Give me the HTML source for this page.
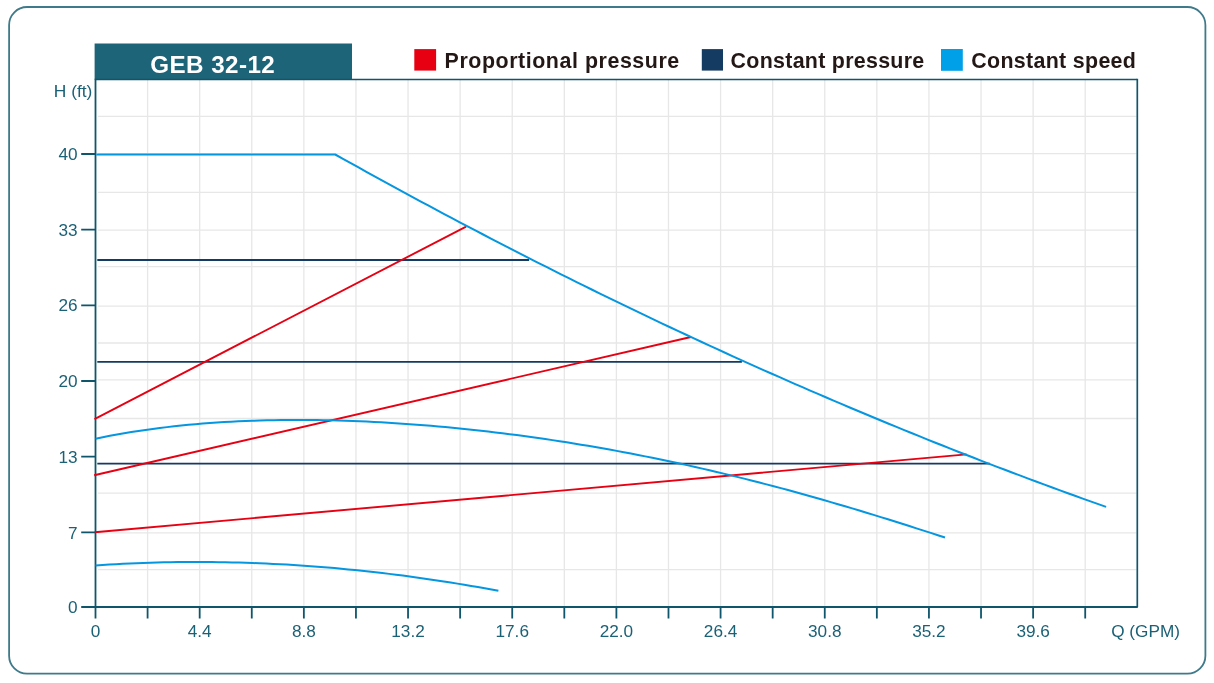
<!DOCTYPE html>
<html><head><meta charset="utf-8"><title>GEB 32-12</title>
<style>
html,body{margin:0;padding:0;background:#fff;width:1214px;height:683px;overflow:hidden;font-family:"Liberation Sans",sans-serif;}
svg{display:block;will-change:transform;}
text{font-family:"Liberation Sans",sans-serif;}
</style></head><body>
<svg width="1214" height="683" viewBox="0 0 1214 683">
<rect x="9.1" y="7" width="1196.3" height="666.7" rx="18" ry="18" fill="none" stroke="#3e7a8a" stroke-width="1.8"/>
<path d="M147.59 80.00V606.10 M199.68 80.00V606.10 M251.77 80.00V606.10 M303.86 80.00V606.10 M355.95 80.00V606.10 M408.04 80.00V606.10 M460.13 80.00V606.10 M512.22 80.00V606.10 M564.31 80.00V606.10 M616.40 80.00V606.10 M668.49 80.00V606.10 M720.58 80.00V606.10 M772.67 80.00V606.10 M824.76 80.00V606.10 M876.85 80.00V606.10 M928.94 80.00V606.10 M981.03 80.00V606.10 M1033.12 80.00V606.10 M1085.21 80.00V606.10 M98 116.40H1136.50 M98 153.60H1136.50 M98 192.40H1136.50 M98 230.10H1136.50 M98 266.70H1136.50 M98 306.10H1136.50 M98 343.00H1136.50 M98 379.90H1136.50 M98 418.50H1136.50 M98 493.10H1136.50 M98 532.90H1136.50 M98 569.70H1136.50" stroke="#e7e7e7" stroke-width="1.3" fill="none"/>
<rect x="94.6" y="43.5" width="257.4" height="36.2" fill="#1e6479"/>
<text x="150.2" y="72.7" font-weight="bold" font-size="24.2" fill="#fff" textLength="124.6" lengthAdjust="spacing">GEB 32-12</text>
<path d="M95.50 79.40H1137.10" stroke="#0f566c" stroke-width="1.5" fill="none"/>
<path d="M1137.3 78.70V607.00" stroke="#0f566c" stroke-width="1.7" fill="none"/>
<path d="M95.50 78.70V618.6 M81.2 607.00H1137.80" stroke="#0f566c" stroke-width="1.8" fill="none"/>
<path d="M81.2 532.40H95.50 M81.2 456.60H95.50 M81.2 381.00H95.50 M81.2 305.30H95.50 M81.2 229.60H95.50 M81.2 154.00H95.50 M147.59 607.00V618.6 M199.68 607.00V618.6 M251.77 607.00V618.6 M303.86 607.00V618.6 M355.95 607.00V618.6 M408.04 607.00V618.6 M460.13 607.00V618.6 M512.22 607.00V618.6 M564.31 607.00V618.6 M616.40 607.00V618.6 M668.49 607.00V618.6 M720.58 607.00V618.6 M772.67 607.00V618.6 M824.76 607.00V618.6 M876.85 607.00V618.6 M928.94 607.00V618.6 M981.03 607.00V618.6 M1033.12 607.00V618.6 M1085.21 607.00V618.6" stroke="#0f566c" stroke-width="1.8" fill="none"/>
<text x="77.6" y="613.10" font-size="17.2" fill="#1b6176" text-anchor="end">0</text>
<text x="77.6" y="538.50" font-size="17.2" fill="#1b6176" text-anchor="end">7</text>
<text x="77.6" y="462.70" font-size="17.2" fill="#1b6176" text-anchor="end">13</text>
<text x="77.6" y="387.10" font-size="17.2" fill="#1b6176" text-anchor="end">20</text>
<text x="77.6" y="311.40" font-size="17.2" fill="#1b6176" text-anchor="end">26</text>
<text x="77.6" y="235.70" font-size="17.2" fill="#1b6176" text-anchor="end">33</text>
<text x="77.6" y="160.10" font-size="17.2" fill="#1b6176" text-anchor="end">40</text>
<text x="92.4" y="97.4" font-size="17.4" fill="#1b6176" text-anchor="end">H (ft)</text>
<text x="95.50" y="637.2" font-size="17.2" fill="#1b6176" text-anchor="middle">0</text>
<text x="199.68" y="637.2" font-size="17.2" fill="#1b6176" text-anchor="middle">4.4</text>
<text x="303.86" y="637.2" font-size="17.2" fill="#1b6176" text-anchor="middle">8.8</text>
<text x="408.04" y="637.2" font-size="17.2" fill="#1b6176" text-anchor="middle">13.2</text>
<text x="512.22" y="637.2" font-size="17.2" fill="#1b6176" text-anchor="middle">17.6</text>
<text x="616.40" y="637.2" font-size="17.2" fill="#1b6176" text-anchor="middle">22.0</text>
<text x="720.58" y="637.2" font-size="17.2" fill="#1b6176" text-anchor="middle">26.4</text>
<text x="824.76" y="637.2" font-size="17.2" fill="#1b6176" text-anchor="middle">30.8</text>
<text x="928.94" y="637.2" font-size="17.2" fill="#1b6176" text-anchor="middle">35.2</text>
<text x="1033.12" y="637.2" font-size="17.2" fill="#1b6176" text-anchor="middle">39.6</text>
<text x="1111.2" y="637.2" font-size="17.2" fill="#1b6176">Q (GPM)</text>
<rect x="414.3" y="49.1" width="21.8" height="21.5" fill="#e60012"/>
<rect x="701.8" y="49.1" width="21.2" height="21.5" fill="#143b61"/>
<rect x="941.0" y="49.0" width="21.8" height="21.8" fill="#00a0e9"/>
<text x="444.6" y="67.65" font-weight="bold" font-size="21.4" fill="#231815" textLength="234.6" lengthAdjust="spacing">Proportional pressure</text>
<text x="730.6" y="67.65" font-weight="bold" font-size="21.4" fill="#231815" textLength="193.6" lengthAdjust="spacing">Constant pressure</text>
<text x="971.3" y="67.65" font-weight="bold" font-size="21.4" fill="#231815" textLength="164.6" lengthAdjust="spacing">Constant speed</text>
<path d="M97.3 260.0H529.1 M97.3 361.8H741.9 M97.3 463.6H990.0" stroke="#143b61" stroke-width="1.8" fill="none"/>
<path d="M94.5 419.1L466.1 226.6 M94.2 475.3L690.9 337.0 M94.8 532.25L966.6 454.4" stroke="#e60012" stroke-width="1.9" fill="none"/>
<path d="M96.3 154.5 L335.20 154.50 L342.99 158.79 L350.77 163.14 L358.56 167.47 L366.35 171.78 L374.13 176.08 L381.92 180.36 L389.71 184.62 L397.49 188.87 L405.28 193.10 L413.07 197.32 L420.86 201.51 L428.64 205.70 L436.43 209.86 L444.22 214.01 L452.00 218.14 L459.79 222.26 L467.58 226.36 L475.36 230.44 L483.15 234.51 L490.94 238.56 L498.72 242.60 L506.51 246.62 L514.30 250.62 L522.08 254.60 L529.87 258.57 L537.66 262.53 L545.45 266.46 L553.23 270.38 L561.02 274.29 L568.81 278.18 L576.59 282.05 L584.38 285.90 L592.17 289.74 L599.95 293.56 L607.74 297.37 L615.53 301.16 L623.31 304.93 L631.10 308.69 L638.89 312.43 L646.67 316.15 L654.46 319.86 L662.25 323.55 L670.04 327.23 L677.82 330.89 L685.61 334.53 L693.40 338.15 L701.18 341.76 L708.97 345.36 L716.76 348.93 L724.54 352.49 L732.33 356.04 L740.12 359.57 L747.90 363.08 L755.69 366.57 L763.48 370.05 L771.26 373.51 L779.05 376.96 L786.84 380.39 L794.63 383.80 L802.41 387.20 L810.20 390.58 L817.99 393.95 L825.77 397.29 L833.56 400.63 L841.35 403.94 L849.13 407.24 L856.92 410.52 L864.71 413.79 L872.49 417.04 L880.28 420.27 L888.07 423.49 L895.85 426.69 L903.64 429.87 L911.43 433.04 L919.22 436.19 L927.00 439.33 L934.79 442.45 L942.58 445.55 L950.36 448.64 L958.15 451.71 L965.94 454.76 L973.72 457.80 L981.51 460.82 L989.30 463.82 L997.08 466.81 L1004.87 469.78 L1012.66 472.74 L1020.44 475.68 L1028.23 478.60 L1036.02 481.51 L1043.81 484.40 L1051.59 487.27 L1059.38 490.13 L1067.17 492.97 L1074.95 495.79 L1082.74 498.60 L1090.53 501.39 L1098.31 504.17 L1106.10 506.93" stroke="#0596e0" stroke-width="2.0" fill="none" stroke-linejoin="round"/>
<path d="M95.60 438.65 L102.74 437.19 L109.88 435.81 L117.01 434.49 L124.15 433.25 L131.29 432.07 L138.43 430.96 L145.56 429.91 L152.70 428.92 L159.84 427.99 L166.98 427.12 L174.12 426.31 L181.25 425.55 L188.39 424.85 L195.53 424.20 L202.67 423.60 L209.81 423.05 L216.94 422.55 L224.08 422.10 L231.22 421.69 L238.36 421.33 L245.49 421.02 L252.63 420.75 L259.77 420.52 L266.91 420.33 L274.05 420.18 L281.18 420.07 L288.32 420.01 L295.46 419.97 L302.60 419.98 L309.73 420.03 L316.87 420.10 L324.01 420.22 L331.15 420.37 L338.29 420.55 L345.42 420.77 L352.56 421.02 L359.70 421.31 L366.84 421.62 L373.97 421.97 L381.11 422.35 L388.25 422.76 L395.39 423.20 L402.53 423.67 L409.66 424.17 L416.80 424.70 L423.94 425.26 L431.08 425.84 L438.22 426.46 L445.35 427.11 L452.49 427.78 L459.63 428.48 L466.77 429.21 L473.90 429.97 L481.04 430.76 L488.18 431.57 L495.32 432.41 L502.46 433.28 L509.59 434.18 L516.73 435.10 L523.87 436.05 L531.01 437.03 L538.14 438.04 L545.28 439.07 L552.42 440.13 L559.56 441.21 L566.70 442.33 L573.83 443.47 L580.97 444.64 L588.11 445.83 L595.25 447.05 L602.38 448.30 L609.52 449.58 L616.66 450.88 L623.80 452.21 L630.94 453.56 L638.07 454.95 L645.21 456.36 L652.35 457.79 L659.49 459.26 L666.63 460.75 L673.76 462.26 L680.90 463.81 L688.04 465.38 L695.18 466.97 L702.31 468.60 L709.45 470.25 L716.59 471.92 L723.73 473.62 L730.87 475.35 L738.00 477.10 L745.14 478.88 L752.28 480.68 L759.42 482.51 L766.55 484.36 L773.69 486.24 L780.83 488.14 L787.97 490.07 L795.11 492.02 L802.24 493.99 L809.38 495.98 L816.52 498.00 L823.66 500.04 L830.79 502.10 L837.93 504.19 L845.07 506.29 L852.21 508.41 L859.35 510.56 L866.48 512.72 L873.62 514.90 L880.76 517.10 L887.90 519.32 L895.04 521.55 L902.17 523.80 L909.31 526.06 L916.45 528.33 L923.59 530.62 L930.72 532.92 L937.86 535.24 L945.00 537.56" stroke="#0596e0" stroke-width="2.0" fill="none"/>
<path d="M95.60 565.46 L102.43 565.00 L109.25 564.58 L116.08 564.19 L122.91 563.84 L129.74 563.51 L136.56 563.22 L143.39 562.96 L150.22 562.73 L157.04 562.53 L163.87 562.36 L170.70 562.22 L177.53 562.12 L184.35 562.04 L191.18 562.00 L198.01 561.99 L204.83 562.01 L211.66 562.06 L218.49 562.14 L225.32 562.25 L232.14 562.39 L238.97 562.56 L245.80 562.76 L252.62 563.00 L259.45 563.26 L266.28 563.55 L273.11 563.88 L279.93 564.23 L286.76 564.61 L293.59 565.02 L300.41 565.47 L307.24 565.94 L314.07 566.44 L320.89 566.97 L327.72 567.53 L334.55 568.12 L341.38 568.74 L348.20 569.38 L355.03 570.06 L361.86 570.77 L368.68 571.50 L375.51 572.26 L382.34 573.06 L389.17 573.88 L395.99 574.72 L402.82 575.60 L409.65 576.51 L416.47 577.44 L423.30 578.40 L430.13 579.39 L436.96 580.41 L443.78 581.46 L450.61 582.53 L457.44 583.63 L464.26 584.76 L471.09 585.92 L477.92 587.10 L484.75 588.32 L491.57 589.56 L498.40 590.82" stroke="#0596e0" stroke-width="2.0" fill="none"/>
</svg>
</body></html>
